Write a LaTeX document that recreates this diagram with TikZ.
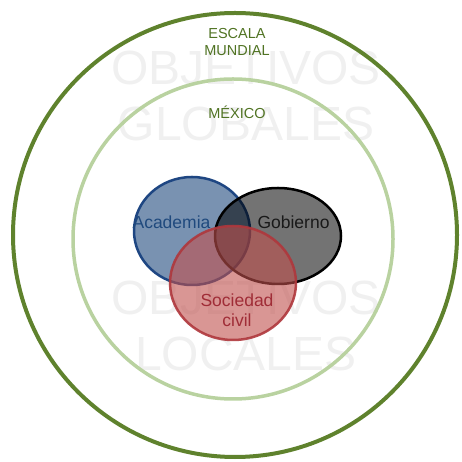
\documentclass[tikz,border=0pt]{standalone}
\usepackage{fontspec}
\setmainfont{Liberation Sans}
\definecolor{worldgreen}{RGB}{95,130,45}
\definecolor{mexgreen}{RGB}{185,210,160}
\definecolor{textgreen}{RGB}{80,115,35}
\definecolor{acadblue}{RGB}{31,73,125}
\definecolor{acadline}{RGB}{30,70,130}
\definecolor{civred}{RGB}{192,80,77}
\definecolor{civline}{RGB}{175,55,60}
\definecolor{civtext}{RGB}{160,45,55}
\definecolor{shadowtext}{RGB}{240,240,240}

\begin{document}
\begin{tikzpicture}[x=1pt, y=1pt,
                    scale label/.style={text=textgreen, font=\fontsize{14.5}{17}\selectfont, align=center},
                    watermark/.style={text=shadowtext, font=\fontsize{48}{56}\selectfont, align=center},
                    set label/.style={font=\fontsize{17.5}{20}\selectfont, align=center}]

  \useasboundingbox (0,0) rectangle (462,462);

  % background words
  \node[watermark] (global) at (246,366) {OBJETIVOS\\GLOBALES};
  \node[watermark] (local) at (246,136.5) {OBJETIVOS\\LOCALES};

  % scales
  \draw[worldgreen, line width=4pt] (235,227) circle [radius=222];
  \draw[mexgreen, line width=3.5pt] (233,223) circle [radius=160];

  \node[scale label] (world) at (237,419.5) {ESCALA\\MUNDIAL};
  \node[scale label] (mexico) at (237,350) {MÉXICO};

  % actors
  \draw[acadline, line width=2.5pt, fill=acadblue, fill opacity=0.6]
    (192,231) ellipse [x radius=58, y radius=54];
  \draw[black, line width=2.5pt, fill=black, fill opacity=0.55]
    (278,226) ellipse [x radius=63, y radius=48];
  \draw[civline, line width=2.5pt, fill=civred, fill opacity=0.6, draw opacity=0.9]
    (233,179) ellipse [x radius=63, y radius=57];

  \node[set label, text=acadblue] (academia) at (171.5,240) {Academia};
  \node[set label, text=black!90] (gobierno) at (293.5,240) {Gobierno};
  \node[set label, text=civtext] (sociedad) at (237,152) {Sociedad\\civil};

\end{tikzpicture}
\end{document}
